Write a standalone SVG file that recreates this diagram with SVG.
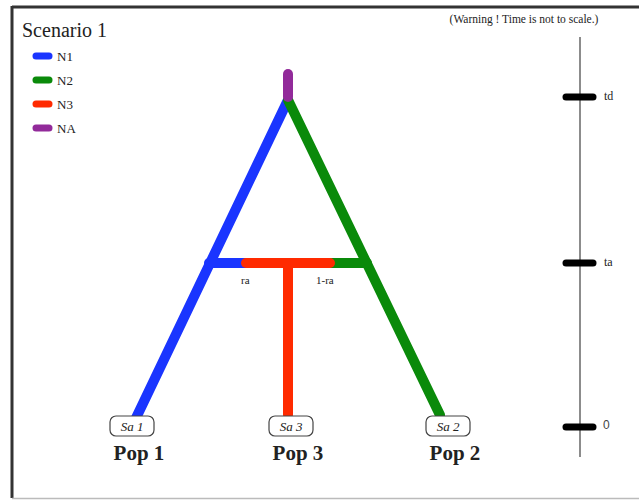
<svg xmlns="http://www.w3.org/2000/svg" width="639" height="500" viewBox="0 0 639 500">
<style>
.br{fill:none;stroke-width:10;stroke-linecap:round}
.lg{stroke-width:7;stroke-linecap:round}
.t{fill:#222}
.tk{stroke:#000;stroke-width:7;stroke-linecap:round}
.sa{fill:#fff;stroke:#444;stroke-width:1.2}
</style>
<rect width="639" height="500" fill="#fff"/>
<g id="frame">
<line x1="12" y1="7" x2="639" y2="7" stroke="#333" stroke-width="3"/>
<line x1="12" y1="6" x2="12" y2="498" stroke="#333" stroke-width="3"/>
<line x1="12" y1="498.5" x2="639" y2="498.5" stroke="#bbb" stroke-width="1.5"/>
</g>
<g font-family="'Liberation Serif', 'DejaVu Serif', 'Times New Roman', serif">
<g id="title"><text class="t" x="22" y="37" font-size="20">Scenario 1</text></g>
<g id="warning"><text class="t" x="524" y="23" font-size="11.5" text-anchor="middle">(Warning ! Time is not to scale.)</text></g>
<g id="legend">
<line class="lg" x1="36" y1="56" x2="49" y2="56" stroke="#1a35ff"/>
<text class="t" x="57" y="61" font-size="13">N1</text>
<line class="lg" x1="36" y1="80" x2="49" y2="80" stroke="#0a8a0a"/>
<text class="t" x="57" y="85" font-size="13">N2</text>
<line class="lg" x1="36" y1="104" x2="49" y2="104" stroke="#ff2a00"/>
<text class="t" x="57" y="109" font-size="13">N3</text>
<line class="lg" x1="36" y1="128" x2="49" y2="128" stroke="#922a9a"/>
<text class="t" x="57" y="133" font-size="13">NA</text>
</g>
<g id="connectors">
<line class="br" x1="288" y1="100" x2="136" y2="418" stroke="#1a35ff"/>
<line class="br" x1="288" y1="100" x2="440" y2="415" stroke="#0a8a0a"/>
<line class="br" x1="209" y1="263" x2="250" y2="263" stroke="#1a35ff" stroke-linecap="butt"/>
<line class="br" x1="325" y1="263" x2="367" y2="263" stroke="#0a8a0a" stroke-linecap="butt"/>
<line class="br" x1="288" y1="263" x2="288" y2="415" stroke="#ff2a00" stroke-linecap="butt"/>
<line class="br" x1="246" y1="263" x2="330" y2="263" stroke="#ff2a00"/>
<line class="br" x1="288" y1="74" x2="288" y2="97" stroke="#922a9a"/>
<text class="t" x="241" y="284" font-size="11">ra</text>
<text class="t" x="316" y="284" font-size="11">1-ra</text>
</g>
<g id="pop1">
<rect class="sa" x="110" y="416" width="44" height="20" rx="6"/>
<text class="t" x="132" y="431" font-size="13" font-style="italic" text-anchor="middle">Sa 1</text>
<text class="t" x="139" y="460" font-size="21" font-weight="bold" text-anchor="middle">Pop 1</text>
</g>
<g id="pop3">
<rect class="sa" x="269" y="416" width="44" height="20" rx="6"/>
<text class="t" x="291" y="431" font-size="13" font-style="italic" text-anchor="middle">Sa 3</text>
<text class="t" x="298" y="460" font-size="21" font-weight="bold" text-anchor="middle">Pop 3</text>
</g>
<g id="pop2">
<rect class="sa" x="426" y="416" width="44" height="20" rx="6"/>
<text class="t" x="448" y="431" font-size="13" font-style="italic" text-anchor="middle">Sa 2</text>
<text class="t" x="455" y="460" font-size="21" font-weight="bold" text-anchor="middle">Pop 2</text>
</g>
<g id="timeaxis">
<line x1="580" y1="37" x2="580" y2="457" stroke="#666" stroke-width="1.5"/>
<line class="tk" x1="566" y1="97" x2="593" y2="97"/>
<line class="tk" x1="566" y1="263" x2="593" y2="263"/>
<line class="tk" x1="566" y1="427" x2="593" y2="427"/>
<text class="t" x="604" y="100" font-size="12">td</text>
<text class="t" x="604" y="266" font-size="12">ta</text>
<text x="603" y="429" font-size="12" font-family="'Liberation Sans', sans-serif" fill="#444">0</text>
</g>
</g>
</svg>
